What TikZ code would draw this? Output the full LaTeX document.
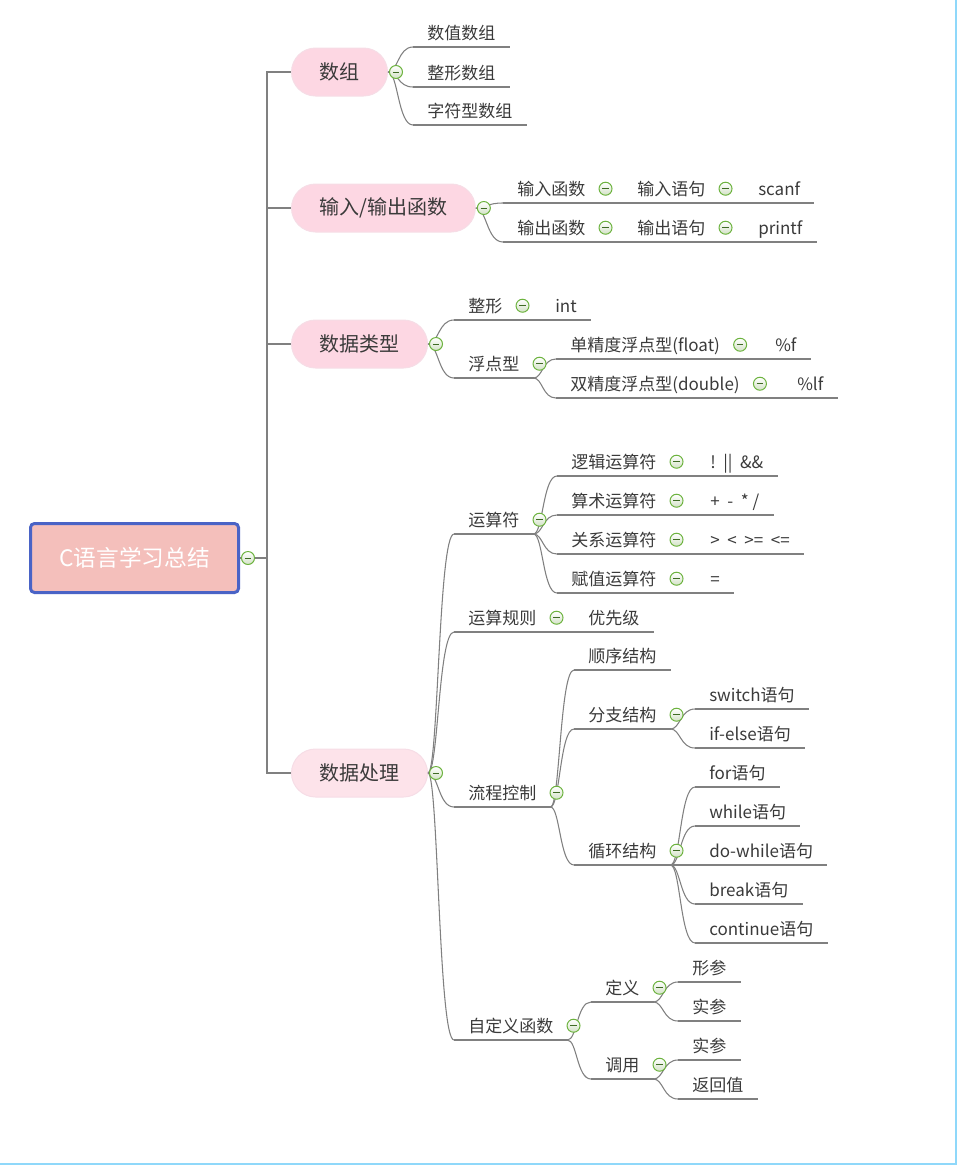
\documentclass[tikz,border=0pt]{standalone}
\usepackage{fontspec}
\setmainfont{Noto Sans CJK SC}
\usepackage{tikz}
\usetikzlibrary{calc}
\definecolor{xian}{HTML}{808080}
\definecolor{zi}{HTML}{3A3A3A}
\definecolor{fenhong}{HTML}{FDD7E3}
\definecolor{qianfen}{HTML}{FDE3EA}
\definecolor{fenbian}{HTML}{F6DDE6}
\definecolor{genfen}{HTML}{F4BFBB}
\definecolor{genlan}{HTML}{4A63C6}
\definecolor{lv}{HTML}{6DB33F}
\definecolor{lvdi}{HTML}{D3E2C6}
\definecolor{lvxian}{HTML}{3F6B25}
\definecolor{kuang}{HTML}{8FD8FA}
\tikzstyle{gen} = [rectangle, rounded corners=3pt, draw=genlan, line width=2.25pt, fill=genfen, minimum width=156pt, minimum height=51.75pt, text=white, font=\fontsize{17}{20}\selectfont]
\tikzstyle{zhuti} = [rectangle, rounded corners=18pt, minimum height=36pt, inner xsep=21pt, fill=fenhong, draw=fenbian, line width=0.75pt, text=zi, font=\fontsize{15}{18}\selectfont, anchor=west]
\tikzstyle{topic} = [anchor=south west, inner xsep=10.5pt, inner ysep=0pt, text height=15.4pt, text depth=5.6pt, text=zi, font=\fontsize{12.75}{15}\selectfont, append after command={(\tikzlastnode.south west) edge[draw=xian, line width=0.8pt] (\tikzlastnode.south east)}]
\tikzstyle{zhedie} = [circle, minimum size=9.75pt, inner sep=0pt, draw=lv, line width=0.75pt, top color=white, bottom color=lvdi, path picture={\draw[lvxian, line width=0.7pt] ([xshift=-2.4pt]path picture bounding box.center) -- ([xshift=2.4pt]path picture bounding box.center);}]
\tikzstyle{lian} = [draw=xian, line width=0.8pt]
\tikzstyle{branch} = [to path={let \p1=(\tikztostart), \p2=(\tikztotarget) in .. controls ({\x1+0.4*(\x2-\x1)},\y1) and ({\x1+0.4*(\x2-\x1)},\y2) .. (\tikztotarget)}]
\begin{document}
\begin{tikzpicture}[x=0.75pt, y=-0.75pt]
	\useasboundingbox (0,0) rectangle (957,1165);
	\draw[kuang, line width=1.2pt] (0,1164) -- (956,1164) -- (956,0);
	\node (c) at (134.5,558) [gen] {C语言学习总结};
	\coordinate (zhu) at (267,558);
	\node (t1) at (291,72) [zhuti] {数组};
	\node (t2) at (291,208) [zhuti] {输入/输出函数};
	\node (t3) at (291,344) [zhuti] {数据类型};
	\node (t4) at (291,773) [zhuti, fill=qianfen] {数据处理};
	\draw[lian] (c.east) -- (zhu);
	\draw[lian] (zhu) |- (t1.west);
	\draw[lian] (zhu) |- (t2.west);
	\draw[lian] (zhu) |- (t3.west);
	\draw[lian] (zhu) |- (t4.west);

	\node (t11) at (413,47) [topic] {数值数组};
	\node (t12) at (413,87) [topic] {整形数组};
	\node (t13) at (413,125) [topic] {字符型数组};
	\draw[lian] (t1.east) to[branch] (t11.south west);
	\draw[lian] (t1.east) to[branch] (t12.south west);
	\draw[lian] (t1.east) to[branch] (t13.south west);

	\node (t21) at (503,203) [topic] {输入函数};
	\node (t22) at (623,203) [topic] {输入语句};
	\node (t23) at (744,203) [topic] {scanf};
	\node (t24) at (503,242) [topic] {输出函数};
	\node (t25) at (623,242) [topic] {输出语句};
	\node (t26) at (744,242) [topic] {printf};
	\draw[lian] (t2.east) to[branch] (t21.south west);
	\draw[lian] (t21.south east) to[branch] (t22.south west);
	\draw[lian] (t22.south east) to[branch] (t23.south west);
	\draw[lian] (t2.east) to[branch] (t24.south west);
	\draw[lian] (t24.south east) to[branch] (t25.south west);
	\draw[lian] (t25.south east) to[branch] (t26.south west);

	\node (t31) at (454,320) [topic] {整形};
	\node (t32) at (541,320) [topic] {int};
	\node (t33) at (454,378) [topic] {浮点型};
	\node (t34) at (556,359) [topic] {单精度浮点型(float)};
	\node (t35) at (761,359) [topic] {\%f};
	\node (t36) at (556,398) [topic] {双精度浮点型(double)};
	\node (t37) at (783,398) [topic] {\%lf};
	\draw[lian] (t3.east) to[branch] (t31.south west);
	\draw[lian] (t31.south east) to[branch] (t32.south west);
	\draw[lian] (t3.east) to[branch] (t33.south west);
	\draw[lian] (t33.south east) to[branch] (t34.south west);
	\draw[lian] (t34.south east) to[branch] (t35.south west);
	\draw[lian] (t33.south east) to[branch] (t36.south west);
	\draw[lian] (t36.south east) to[branch] (t37.south west);

	\node (t41) at (454,534) [topic] {运算符};
	\node (y1) at (557,476) [topic] {逻辑运算符};
	\node (y1v) at (696,476) [topic] {!~~||~~\&\&};
	\node (y2) at (557,515) [topic] {算术运算符};
	\node (y2v) at (696,515) [topic] {+~~-~~*~/};
	\node (y3) at (557,554) [topic] {关系运算符};
	\node (y3v) at (696,554) [topic] {>~~<~~>=~~<=};
	\node (y4) at (557,593) [topic] {赋值运算符};
	\node (y4v) at (696,593) [topic] {=};
	\node (t42) at (454,632) [topic] {运算规则};
	\node (t42v) at (574,632) [topic] {优先级};
	\node (t43) at (454,807) [topic] {流程控制};
	\node (l1) at (574,670) [topic] {顺序结构};
	\node (l2) at (574,729) [topic] {分支结构};
	\node (l21) at (695,709) [topic] {switch语句};
	\node (l22) at (695,748) [topic] {if-else语句};
	\node (l3) at (574,865) [topic] {循环结构};
	\node (l31) at (695,787) [topic] {for语句};
	\node (l32) at (695,826) [topic] {while语句};
	\node (l33) at (695,865) [topic] {do-while语句};
	\node (l34) at (695,904) [topic] {break语句};
	\node (l35) at (695,943) [topic] {continue语句};
	\node (t44) at (454,1040) [topic] {自定义函数};
	\node (d1) at (591,1002) [topic] {定义};
	\node (d11) at (678,982) [topic] {形参};
	\node (d12) at (678,1021) [topic] {实参};
	\node (d2) at (591,1079) [topic] {调用};
	\node (d21) at (678,1060) [topic] {实参};
	\node (d22) at (678,1099) [topic] {返回值};
	\draw[lian] (t4.east) to[branch] (t41.south west);
	\draw[lian] (t4.east) to[branch] (t42.south west);
	\draw[lian] (t4.east) to[branch] (t43.south west);
	\draw[lian] (t4.east) to[branch] (t44.south west);
	\draw[lian] (t41.south east) to[branch] (y1.south west);
	\draw[lian] (t41.south east) to[branch] (y2.south west);
	\draw[lian] (t41.south east) to[branch] (y3.south west);
	\draw[lian] (t41.south east) to[branch] (y4.south west);
	\draw[lian] (y1.south east) to[branch] (y1v.south west);
	\draw[lian] (y2.south east) to[branch] (y2v.south west);
	\draw[lian] (y3.south east) to[branch] (y3v.south west);
	\draw[lian] (y4.south east) to[branch] (y4v.south west);
	\draw[lian] (t42.south east) to[branch] (t42v.south west);
	\draw[lian] (t43.south east) to[branch] (l1.south west);
	\draw[lian] (t43.south east) to[branch] (l2.south west);
	\draw[lian] (t43.south east) to[branch] (l3.south west);
	\draw[lian] (l2.south east) to[branch] (l21.south west);
	\draw[lian] (l2.south east) to[branch] (l22.south west);
	\draw[lian] (l3.south east) to[branch] (l31.south west);
	\draw[lian] (l3.south east) to[branch] (l32.south west);
	\draw[lian] (l3.south east) to[branch] (l33.south west);
	\draw[lian] (l3.south east) to[branch] (l34.south west);
	\draw[lian] (l3.south east) to[branch] (l35.south west);
	\draw[lian] (t44.south east) to[branch] (d1.south west);
	\draw[lian] (t44.south east) to[branch] (d2.south west);
	\draw[lian] (d1.south east) to[branch] (d11.south west);
	\draw[lian] (d1.south east) to[branch] (d12.south west);
	\draw[lian] (d2.south east) to[branch] (d21.south west);
	\draw[lian] (d2.south east) to[branch] (d22.south west);

	\node (m0) at ([xshift=6pt]c.east) [zhedie] {};
	\node (m1) at ([xshift=6pt]t1.east) [zhedie] {};
	\node (m2) at ([xshift=6pt]t2.east) [zhedie] {};
	\node (m3) at ([xshift=6pt]t3.east) [zhedie] {};
	\node (m4) at ([xshift=6pt]t4.east) [zhedie] {};
	\node (m21) at ([xshift=4.5pt]t21.east) [zhedie] {};
	\node (m22) at ([xshift=4.5pt]t22.east) [zhedie] {};
	\node (m24) at ([xshift=4.5pt]t24.east) [zhedie] {};
	\node (m25) at ([xshift=4.5pt]t25.east) [zhedie] {};
	\node (m31) at ([xshift=4.5pt]t31.east) [zhedie] {};
	\node (m33) at ([xshift=4.5pt]t33.east) [zhedie] {};
	\node (m34) at ([xshift=4.5pt]t34.east) [zhedie] {};
	\node (m36) at ([xshift=4.5pt]t36.east) [zhedie] {};
	\node (m41) at ([xshift=4.5pt]t41.east) [zhedie] {};
	\node (my1) at ([xshift=4.5pt]y1.east) [zhedie] {};
	\node (my2) at ([xshift=4.5pt]y2.east) [zhedie] {};
	\node (my3) at ([xshift=4.5pt]y3.east) [zhedie] {};
	\node (my4) at ([xshift=4.5pt]y4.east) [zhedie] {};
	\node (m42) at ([xshift=4.5pt]t42.east) [zhedie] {};
	\node (m43) at ([xshift=4.5pt]t43.east) [zhedie] {};
	\node (ml2) at ([xshift=4.5pt]l2.east) [zhedie] {};
	\node (ml3) at ([xshift=4.5pt]l3.east) [zhedie] {};
	\node (m44) at ([xshift=4.5pt]t44.east) [zhedie] {};
	\node (md1) at ([xshift=4.5pt]d1.east) [zhedie] {};
	\node (md2) at ([xshift=4.5pt]d2.east) [zhedie] {};
\end{tikzpicture}
\end{document}
